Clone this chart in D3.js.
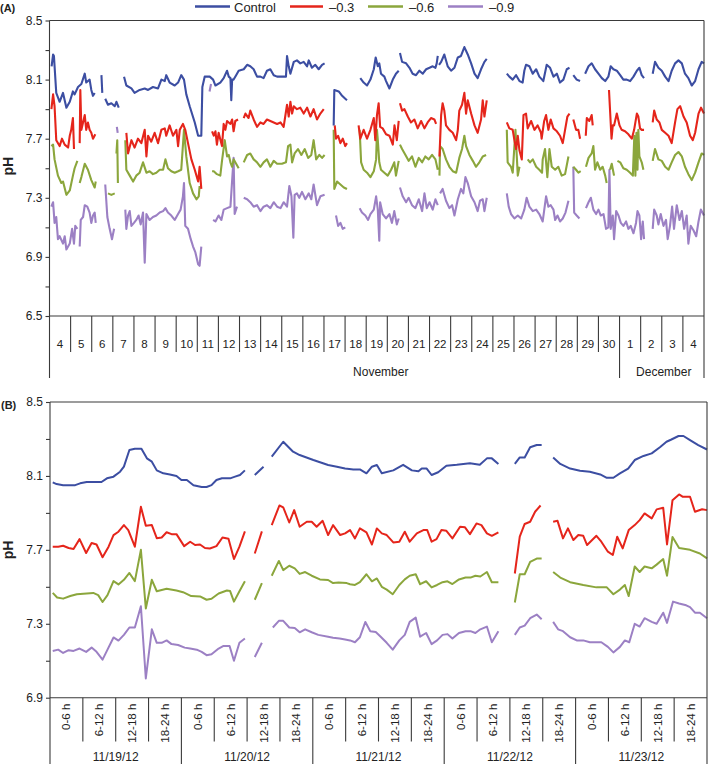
<!DOCTYPE html>
<html><head><meta charset="utf-8">
<script src="https://cdn.jsdelivr.net/npm/d3@7"></script>
<style>
body{margin:0;background:#fff}
svg{display:block}
text{font-family:"Liberation Sans",Arial,Helvetica,sans-serif;fill:#222}
</style>
</head><body>
<svg id="c" width="709" height="764"></svg>
<script>
// ---------- DATA ----------
const seriesNames = ["Control", "\u20130.3", "\u20130.6", "\u20130.9"];
const seriesColors = ["#3c4ea2", "#e5251b", "#8ba63c", "#9c80c4"];

// Panel A: time in days since Nov 4, 00:00 ; pH
const ctrlA = [[0.10,8.19],[0.17,8.27],[0.21,8.26],[0.32,8.01],[0.48,7.95],[0.64,8.01],[0.80,7.91],[0.96,7.95],[1.11,8.02],[1.19,8.00],[1.35,8.05],[1.51,8.07],[1.67,8.14],[1.74,8.08],[1.90,8.10],[1.98,8.03],[2.06,7.99],[2.14,8.01],null,
[2.46,8.13],[2.50,8.01],null,
[2.64,7.97],[2.77,7.93],[2.93,7.94],[3.09,7.92],[3.17,7.95],[3.28,7.91],null,
[3.53,8.12],[3.64,8.06],[3.88,8.04],[4.03,8.01],[4.27,8.03],[4.51,8.04],[4.67,8.03],[4.90,8.05],[5.14,8.04],[5.30,8.10],[5.46,8.09],[5.53,8.13],[5.69,8.08],[5.93,8.06],[6.09,8.08],[6.24,8.13],[6.37,8.10],[6.48,8.00],[6.64,7.92],[6.88,7.81],[7.04,7.72],[7.19,7.72],[7.24,8.05],[7.35,8.12],[7.59,8.12],[7.75,8.10],[7.86,8.06],[8.09,8.08],[8.25,8.11],[8.41,8.16],[8.49,8.12],[8.57,8.11],[8.61,7.96],[8.65,8.10],[8.72,8.10],[8.84,8.13],[8.96,8.16],[9.20,8.17],[9.36,8.20],[9.51,8.19],[9.67,8.17],[9.83,8.12],[9.99,8.12],[10.14,8.11],[10.30,8.16],[10.46,8.17],[10.62,8.13],[10.78,8.12],[11.01,8.12],[11.20,8.12],[11.25,8.26],[11.33,8.19],[11.41,8.14],[11.57,8.22],[11.72,8.23],[11.88,8.21],[12.04,8.22],[12.20,8.19],[12.28,8.23],[12.43,8.18],[12.59,8.20],[12.75,8.17],[12.91,8.20],[13.03,8.21],null,
[13.46,7.79],[13.49,8.03],[13.70,8.02],[13.86,7.99],[14.01,7.97],[14.09,7.96],null,
[14.72,8.11],[14.88,8.08],[15.04,8.06],[15.20,8.10],[15.36,8.17],[15.45,8.25],[15.55,8.19],[15.62,8.21],[15.70,8.14],[15.86,8.12],[15.94,8.09],[16.10,8.04],[16.26,8.10],[16.41,8.14],[16.54,8.16],null,
[16.60,8.28],[16.70,8.22],[16.89,8.21],[17.05,8.18],[17.20,8.14],[17.36,8.13],[17.52,8.16],[17.68,8.14],[17.84,8.17],[18.00,8.18],[18.15,8.19],[18.28,8.18],[18.34,8.21],[18.39,8.26],null,
[18.45,8.20],[18.55,8.22],[18.70,8.27],[18.86,8.19],[19.02,8.16],[19.18,8.18],[19.34,8.25],[19.49,8.26],[19.65,8.32],[19.81,8.27],[19.97,8.21],[20.13,8.14],[20.28,8.11],[20.44,8.17],[20.60,8.22],[20.71,8.24],null,
[21.66,8.14],[21.78,8.12],[21.94,8.10],[22.10,8.13],[22.26,8.09],[22.41,8.08],[22.49,8.16],[22.57,8.20],[22.73,8.19],[22.89,8.14],[23.05,8.17],[23.20,8.12],[23.33,8.10],[23.39,8.09],[23.55,8.20],[23.71,8.18],[23.87,8.12],[24.03,8.14],[24.18,8.08],[24.34,8.10],[24.50,8.17],[24.63,8.18],null,
[24.81,8.13],[24.97,8.10],[25.13,8.09],null,
[25.37,8.14],[25.53,8.19],[25.68,8.21],[25.84,8.17],[26.00,8.14],[26.16,8.11],[26.32,8.09],[26.47,8.12],[26.58,8.19],[26.71,8.17],[26.87,8.16],[27.03,8.13],[27.18,8.10],[27.34,8.10],[27.50,8.09],[27.66,8.12],[27.82,8.16],[27.94,8.18],[28.05,8.13],[28.16,8.11],null,
[28.57,8.14],[28.68,8.22],[28.84,8.18],[29.00,8.16],[29.16,8.12],[29.32,8.09],[29.47,8.16],[29.63,8.21],[29.79,8.23],[29.95,8.21],[30.10,8.14],[30.26,8.11],[30.42,8.06],[30.58,8.09],[30.74,8.17],[30.89,8.22],[31.0,8.21]];

const redA = [[0.09,7.90],[0.17,8.00],[0.24,7.92],[0.32,7.69],[0.48,7.65],[0.59,7.70],[0.72,7.66],[0.88,7.64],[0.96,7.72],[1.03,7.76],[1.11,7.84],[1.16,7.63],null,
[1.43,7.67],[1.46,8.03],[1.51,7.76],[1.67,7.86],[1.74,7.76],[1.82,7.81],[1.90,7.76],[1.98,7.74],[2.06,7.70],[2.17,7.73],null,
[3.64,7.74],[3.72,7.60],[3.88,7.69],[4.03,7.64],[4.19,7.70],[4.35,7.67],[4.51,7.76],[4.59,7.58],[4.67,7.72],[4.82,7.68],[4.98,7.74],[5.14,7.67],[5.30,7.76],[5.46,7.77],[5.53,7.72],[5.69,7.79],[5.85,7.72],[6.01,7.76],[6.09,7.65],[6.17,7.76],[6.32,7.80],[6.43,7.76],[6.56,7.67],[6.72,7.56],[6.88,7.49],[7.04,7.41],[7.11,7.51],[7.19,7.36],null,
[7.70,7.75],[7.78,7.72],[7.86,7.75],[7.93,7.66],[8.01,7.74],[8.17,7.65],[8.25,7.80],[8.33,7.76],[8.41,7.82],[8.57,7.80],[8.65,7.83],[8.72,7.75],[8.80,7.82],[8.93,7.83],null,
[9.20,7.84],[9.28,7.87],[9.43,7.84],[9.51,7.89],[9.67,7.83],[9.83,7.78],[9.99,7.81],[10.14,7.80],[10.30,7.83],[10.46,7.82],[10.62,7.81],[10.78,7.80],[10.94,7.81],[11.09,7.78],[11.25,7.93],[11.33,7.85],[11.41,7.95],[11.49,7.87],[11.57,7.92],[11.72,7.90],[11.88,7.91],[12.04,7.87],[12.20,7.91],[12.36,7.85],[12.51,7.90],[12.67,7.83],[12.83,7.87],[12.99,7.90],null,
[13.51,7.79],[13.57,7.70],[13.67,7.72],[13.78,7.67],[13.89,7.70],[14.01,7.65],[14.09,7.67],null,
[14.64,7.79],[14.72,7.70],[14.88,7.76],[15.04,7.70],[15.20,7.76],[15.36,7.84],[15.43,7.69],[15.51,7.86],[15.59,7.94],[15.66,7.78],[15.78,7.77],[15.94,7.73],[16.10,7.72],[16.26,7.66],[16.34,7.79],[16.45,7.69],[16.54,7.82],null,
[16.60,7.94],[16.70,7.89],[16.81,7.90],[16.97,7.85],[17.12,7.81],[17.28,7.83],[17.44,7.77],[17.60,7.82],[17.76,7.77],[17.91,7.81],[18.07,7.84],[18.23,7.83],[18.31,7.80],null,
[18.47,7.58],[18.55,7.86],[18.62,7.94],[18.70,7.89],[18.78,7.79],[18.94,7.76],[19.10,7.74],[19.26,7.69],[19.34,7.76],[19.41,7.89],[19.54,7.93],[19.65,8.01],[19.73,7.87],[19.81,7.96],[19.97,7.87],[20.13,7.79],[20.28,7.74],[20.44,7.83],[20.52,7.96],[20.60,7.85],[20.71,7.96],null,
[21.66,7.81],[21.78,7.77],[21.94,7.76],[22.02,7.69],[22.10,7.63],[22.18,7.72],[22.26,7.62],[22.37,7.56],[22.45,7.86],[22.57,7.87],[22.65,7.77],[22.81,7.82],[22.97,7.76],[23.12,7.79],[23.28,7.74],[23.31,7.70],[23.43,7.82],[23.52,7.86],[23.63,7.76],[23.74,7.83],[23.87,7.77],[24.03,7.75],[24.18,7.72],[24.31,7.67],[24.42,7.76],[24.53,7.85],[24.63,7.87],null,
[24.81,7.83],[24.94,7.76],[25.05,7.76],[25.13,7.70],null,
[25.40,7.72],[25.45,7.84],[25.57,7.82],[25.68,7.86],[25.73,7.79],null,
[26.50,8.03],[26.62,7.70],[26.68,7.79],[26.74,7.79],[26.87,7.87],[27.00,7.79],[27.10,7.76],[27.26,7.75],[27.42,7.73],[27.58,7.70],[27.69,7.76],[27.82,7.87],[27.89,7.85],[27.97,7.77],[28.05,7.76],[28.16,7.76],null,
[28.57,7.81],[28.64,7.89],[28.76,7.83],[28.89,7.81],[29.00,7.76],[29.16,7.74],[29.32,7.72],[29.47,7.67],[29.63,7.81],[29.74,7.90],[29.87,7.92],[30.03,7.85],[30.18,7.81],[30.34,7.72],[30.47,7.69],[30.58,7.74],[30.74,7.87],[30.86,7.91],[31.0,7.87]];

const greenA = [[0.09,7.65],[0.17,7.66],[0.24,7.56],[0.40,7.45],[0.56,7.40],[0.64,7.41],[0.80,7.32],[0.96,7.35],[1.11,7.45],[1.19,7.50],[1.32,7.55],null,
[1.43,7.40],[1.51,7.44],[1.67,7.53],[1.82,7.49],[1.98,7.42],[2.14,7.37],[2.19,7.41],null,
[2.77,7.33],[2.93,7.32],[3.09,7.33],null,
[3.17,7.60],[3.21,7.69],[3.24,7.40],null,
[3.59,7.69],[3.64,7.49],[3.80,7.45],[3.96,7.41],[4.11,7.45],[4.27,7.47],[4.43,7.54],[4.59,7.47],[4.74,7.48],[4.90,7.46],[5.06,7.47],[5.22,7.49],[5.38,7.49],[5.49,7.56],[5.61,7.50],[5.77,7.48],[5.93,7.47],[6.09,7.48],[6.24,7.49],[6.37,7.76],[6.48,7.58],[6.64,7.40],[6.80,7.33],[6.96,7.29],[7.07,7.31],[7.11,7.38],null,
[7.70,7.48],[7.78,7.48],[7.93,7.46],[8.09,7.45],[8.17,7.55],[8.30,7.69],[8.41,7.58],[8.49,7.59],[8.57,7.54],[8.65,7.51],[8.72,7.56],[8.84,7.53],[8.96,7.50],null,
[9.20,7.54],[9.36,7.59],[9.51,7.60],[9.67,7.56],[9.83,7.54],[9.99,7.51],[10.14,7.54],[10.30,7.56],[10.46,7.51],[10.62,7.55],[10.78,7.53],[11.01,7.53],[11.20,7.54],[11.30,7.65],[11.41,7.66],[11.49,7.54],[11.61,7.60],[11.77,7.63],[11.93,7.59],[12.09,7.63],[12.25,7.57],[12.40,7.59],[12.51,7.69],[12.63,7.56],[12.78,7.59],[12.91,7.57],[13.03,7.59],null,
[13.46,7.76],[13.49,7.36],[13.62,7.41],[13.78,7.39],[13.94,7.37],[14.09,7.36],null,
[14.69,7.76],[14.76,7.54],[14.88,7.49],[15.04,7.47],[15.20,7.44],[15.36,7.48],[15.47,7.56],[15.51,7.76],[15.55,7.69],[15.62,7.54],[15.70,7.49],[15.86,7.47],[16.02,7.45],[16.18,7.49],[16.33,7.54],[16.41,7.45],[16.54,7.55],null,
[16.60,7.66],[16.70,7.63],[16.86,7.59],[17.01,7.55],[17.17,7.58],[17.33,7.51],[17.49,7.57],[17.65,7.54],[17.80,7.58],[17.96,7.56],[18.12,7.59],[18.28,7.56],[18.39,7.49],null,
[18.47,7.45],[18.50,7.65],[18.62,7.63],[18.78,7.56],[18.94,7.51],[19.10,7.48],[19.26,7.47],[19.41,7.57],[19.54,7.63],[19.65,7.72],[19.73,7.65],[19.89,7.59],[20.05,7.55],[20.20,7.51],[20.36,7.54],[20.52,7.58],[20.68,7.59],null,
[21.66,7.76],[21.70,7.54],[21.86,7.51],[21.94,7.47],[22.07,7.76],[22.18,7.45],[22.26,7.51],null,
[22.65,7.56],[22.76,7.54],[22.89,7.56],[23.05,7.51],[23.20,7.49],[23.33,7.47],[23.36,7.56],[23.47,7.63],[23.58,7.44],[23.68,7.63],[23.79,7.51],[23.95,7.49],[24.10,7.51],[24.26,7.45],[24.42,7.46],[24.58,7.58],null,
[24.81,7.51],[24.94,7.49],[25.05,7.47],[25.16,7.48],null,
[25.41,7.51],[25.53,7.57],[25.68,7.60],[25.76,7.65],[25.84,7.49],[25.95,7.54],[26.08,7.49],[26.20,7.51],[26.32,7.45],[26.39,7.40],null,
[26.55,7.49],[26.63,7.53],[26.74,7.45],null,
[26.90,7.55],[27.03,7.54],[27.18,7.50],[27.34,7.49],[27.50,7.47],[27.63,7.45],[27.70,7.72],[27.75,7.45],[27.80,7.74],[27.85,7.49],[27.89,7.76],[27.94,7.58],[28.05,7.54],[28.13,7.49],null,
[28.57,7.55],[28.68,7.63],[28.84,7.56],[29.00,7.55],[29.16,7.51],[29.32,7.49],[29.47,7.54],[29.63,7.59],[29.79,7.61],[29.95,7.58],[30.10,7.51],[30.26,7.46],[30.42,7.42],[30.58,7.47],[30.74,7.54],[30.89,7.60],[31.0,7.59]];

const purpleA = [[0.09,7.24],[0.17,7.27],[0.24,7.13],[0.32,7.17],[0.40,7.02],[0.48,7.04],[0.64,6.99],[0.72,7.04],[0.80,6.95],[0.96,6.99],[1.07,7.09],[1.16,6.99],[1.22,7.11],[1.32,7.09],null,
[1.43,6.97],[1.48,7.15],[1.59,7.17],[1.67,7.25],[1.79,7.24],[1.90,7.20],[1.98,7.13],[2.06,7.18],[2.14,7.20],[2.19,7.13],null,
[2.64,7.39],[2.74,7.17],[2.85,7.09],[2.96,7.02],[3.06,7.09],null,
[3.19,7.78],[3.23,7.74],null,
[3.59,7.22],[3.64,7.09],[3.72,7.18],[3.80,7.21],[3.88,7.11],[4.00,7.13],[4.11,7.15],[4.22,7.18],[4.32,7.12],[4.43,7.20],[4.51,6.86],[4.59,7.19],[4.74,7.15],[4.90,7.17],[5.06,7.18],[5.22,7.20],[5.38,7.21],[5.49,7.23],[5.61,7.20],[5.77,7.18],[5.93,7.15],[6.09,7.19],[6.21,7.22],[6.32,7.31],[6.37,7.40],[6.43,7.11],[6.56,7.09],[6.69,7.02],[6.80,6.97],[6.91,6.93],[7.04,6.85],[7.11,6.84],[7.19,6.97],null,
[7.58,8.02],[7.65,8.07],null,
[7.75,7.15],[7.86,7.14],[8.01,7.18],[8.14,7.15],[8.25,7.22],[8.41,7.23],[8.57,7.24],[8.72,7.57],[8.77,7.19],[8.88,7.24],null,
[9.20,7.30],[9.36,7.29],[9.51,7.27],[9.67,7.24],[9.83,7.25],[9.99,7.21],[10.14,7.24],[10.30,7.25],[10.46,7.23],[10.62,7.27],[10.78,7.24],[10.94,7.23],[11.09,7.27],[11.25,7.24],[11.36,7.38],[11.46,7.31],[11.55,7.03],[11.61,7.32],[11.72,7.33],[11.83,7.30],[11.96,7.34],[12.12,7.29],[12.28,7.33],[12.40,7.29],[12.51,7.39],[12.67,7.25],[12.83,7.31],[13.03,7.32],null,
[13.57,7.18],[13.67,7.11],[13.78,7.13],[13.89,7.09],[14.01,7.10],null,
[14.69,7.23],[14.80,7.20],[14.96,7.18],[15.09,7.15],[15.20,7.19],[15.36,7.22],[15.47,7.31],[15.55,7.22],[15.62,7.01],[15.66,7.27],[15.78,7.19],[15.94,7.16],[16.10,7.19],[16.22,7.13],[16.33,7.21],[16.45,7.12],[16.54,7.16],null,
[16.60,7.37],[16.73,7.31],[16.89,7.27],[17.01,7.30],[17.17,7.25],[17.33,7.23],[17.49,7.29],[17.65,7.21],[17.76,7.33],[17.87,7.23],[18.00,7.27],[18.15,7.22],[18.28,7.29],[18.39,7.25],null,
[18.50,7.33],[18.62,7.36],[18.78,7.28],[18.94,7.23],[19.07,7.25],[19.18,7.18],[19.34,7.29],[19.49,7.36],[19.60,7.33],[19.70,7.44],[19.81,7.40],[19.97,7.31],[20.13,7.27],[20.28,7.21],[20.39,7.28],[20.52,7.29],[20.60,7.21],[20.71,7.30],null,
[21.66,7.33],[21.75,7.24],[21.86,7.19],[22.02,7.16],[22.18,7.18],[22.34,7.16],[22.49,7.22],[22.60,7.30],[22.73,7.24],[22.89,7.21],[23.05,7.22],[23.20,7.19],[23.36,7.14],[23.52,7.31],[23.63,7.24],[23.74,7.25],[23.87,7.22],[23.95,7.15],[24.06,7.18],[24.18,7.14],[24.31,7.16],[24.44,7.20],[24.58,7.28],null,
[24.81,7.51],[24.85,7.20],[24.97,7.18],[25.10,7.16],null,
[25.41,7.23],[25.53,7.27],[25.64,7.30],[25.76,7.22],[25.89,7.19],[26.00,7.22],[26.11,7.18],[26.24,7.19],[26.36,7.09],[26.47,7.10],[26.52,7.49],[26.58,7.09],[26.68,7.18],[26.74,7.02],[26.84,7.21],[26.95,7.18],[27.06,7.13],[27.18,7.11],[27.31,7.14],[27.42,7.09],[27.53,7.11],[27.66,7.06],[27.78,7.13],[27.85,7.21],[27.94,7.18],[28.02,7.02],[28.10,7.14],[28.16,7.02],null,
[28.57,7.09],[28.64,7.22],[28.76,7.18],[28.84,7.12],[28.95,7.19],[29.08,7.11],[29.20,7.15],[29.28,7.02],[29.39,7.11],[29.49,7.24],[29.58,7.09],[29.71,7.25],[29.84,7.15],[29.95,7.21],[30.06,7.09],[30.18,7.18],[30.26,6.99],[30.37,7.11],[30.50,7.08],[30.63,7.04],[30.74,7.14],[30.85,7.22],[31.0,7.18]];

// Panel B: hours since 11/19/12 00:00 ; pH
const ctrlB = [[0.5,8.065],[1.2,8.056],[2.4,8.05],[4.6,8.05],[5.5,8.06],[6.7,8.067],[9.4,8.067],[10.4,8.087],[11.6,8.096],[12.8,8.123],[13.5,8.15],[14.5,8.24],[15.5,8.247],[16.7,8.247],[17.7,8.195],[18.6,8.177],[19.5,8.13],[20.7,8.114],[21.9,8.108],[23.1,8.1],[24.0,8.078],[25.0,8.078],[26.2,8.05],[27.7,8.04],[28.6,8.04],[29.5,8.05],[30.4,8.078],[31.4,8.087],[32.9,8.087],[33.8,8.096],[34.7,8.105],[35.6,8.13],null,
[37.4,8.105],[39.0,8.15],null,
[40.5,8.204],[42.6,8.285],[44.4,8.231],[45.6,8.213],[48.1,8.186],[50.8,8.159],[52.4,8.15],[53.9,8.14],[55.4,8.135],[56.6,8.135],[57.8,8.114],[58.8,8.15],[59.7,8.159],[60.6,8.114],[62.7,8.13],[64.5,8.16],[66.1,8.13],[67.3,8.125],[67.9,8.14],[68.8,8.14],[69.7,8.105],[70.9,8.12],[72.4,8.155],[74.3,8.16],[76.7,8.168],[78.5,8.16],[79.8,8.195],[80.7,8.195],[81.9,8.165],null,
[84.9,8.165],[85.8,8.2],[86.7,8.2],[87.7,8.255],[88.9,8.267],[89.8,8.267],null,
[91.9,8.2],[93.2,8.165],[95.0,8.14],[96.8,8.128],[98.6,8.123],[100.5,8.108],[101.7,8.09],[102.9,8.09],[104.1,8.114],[105.6,8.14],[106.8,8.186],[108.4,8.208],[109.9,8.222],[111.4,8.255],[112.6,8.285],[113.5,8.297],[114.8,8.316],[115.7,8.316],[116.9,8.294],[118.4,8.267],[120,8.243]];

const redB = [[0.5,7.717],[1.5,7.717],[2.4,7.722],[3.4,7.71],[4.3,7.705],[5.4,7.758],[6.6,7.683],[7.6,7.737],[8.5,7.729],[9.6,7.66],[10.7,7.717],[11.6,7.78],[12.5,7.798],[13.5,7.834],[14.3,7.807],[15.5,7.717],[16.6,7.933],[17.5,7.83],[18.6,7.834],[19.5,7.763],[20.4,7.767],[21.3,7.795],[22.2,7.785],[23.1,7.785],[24.5,7.72],[25.6,7.744],[26.5,7.726],[27.4,7.729],[28.3,7.71],[29.2,7.707],[30.4,7.72],[31.5,7.767],[32.6,7.76],[33.6,7.65],[34.6,7.717],[35.6,7.80],null,
[37.4,7.68],[38.7,7.80],null,
[40.5,7.834],[41.9,7.94],[42.6,7.93],[43.7,7.848],[44.6,7.915],[45.6,7.825],[46.9,7.852],[47.8,7.852],[48.7,7.825],[49.8,7.857],[50.8,7.78],[51.7,7.834],[53.0,7.78],[53.9,7.789],[54.8,7.807],[55.7,7.762],[56.6,7.816],[57.8,7.795],[58.8,7.729],[59.7,7.816],[60.6,7.789],[61.5,7.78],[62.7,7.74],[63.8,7.744],[64.8,7.798],[65.7,7.744],[67.0,7.789],[68.2,7.807],[68.9,7.807],[69.7,7.744],[70.6,7.758],[71.5,7.807],[72.4,7.803],[73.5,7.762],[74.9,7.825],[75.8,7.822],[76.7,7.785],[77.9,7.843],[78.8,7.834],[79.8,7.789],[80.7,7.776],[81.9,7.795],null,
[84.9,7.572],[85.8,7.771],[86.7,7.84],[87.7,7.852],[88.6,7.906],[89.6,7.94],null,
[91.9,7.852],[92.7,7.857],[93.7,7.762],[94.6,7.816],[95.6,7.753],[96.5,7.78],[97.4,7.776],[98.1,7.726],[99.8,7.776],[100.7,7.744],[101.9,7.69],[102.8,7.672],[103.6,7.771],[104.6,7.708],[105.7,7.807],[106.8,7.834],[107.7,7.861],[108.6,7.897],[109.9,7.87],[110.8,7.919],[112.0,7.928],[112.7,7.729],[113.7,7.969],[114.9,8.0],[115.6,7.987],[116.9,7.987],[117.8,7.906],[119.1,7.92],[120,7.915]];

const greenB = [[0.5,7.467],[1.3,7.442],[2.4,7.436],[3.7,7.45],[4.9,7.46],[6.7,7.464],[7.9,7.467],[8.8,7.455],[9.6,7.418],[10.5,7.455],[11.6,7.531],[12.5,7.513],[13.5,7.538],[14.5,7.575],[15.5,7.531],[16.6,7.70],[17.5,7.383],[18.6,7.538],[19.5,7.476],[21.3,7.49],[23.1,7.48],[24.3,7.471],[25.8,7.45],[27.4,7.448],[28.6,7.43],[29.5,7.435],[30.8,7.464],[32.3,7.48],[32.9,7.477],[33.6,7.42],[34.6,7.476],[35.6,7.53],null,
[37.4,7.43],[38.7,7.52],null,
[40.5,7.56],[41.8,7.64],[42.6,7.59],[43.7,7.614],[44.7,7.6],[45.6,7.57],[46.6,7.58],[47.8,7.56],[49.3,7.54],[50.8,7.537],[51.7,7.52],[52.7,7.523],[54.2,7.52],[54.8,7.514],[55.7,7.51],[56.6,7.525],[57.8,7.568],[58.8,7.53],[59.7,7.545],[60.6,7.5],[61.5,7.485],[62.6,7.46],[63.8,7.51],[64.8,7.54],[65.7,7.56],[66.8,7.568],[67.6,7.514],[68.7,7.53],[69.7,7.497],[70.7,7.51],[71.7,7.525],[72.6,7.53],[73.5,7.515],[74.7,7.54],[75.9,7.55],[76.8,7.55],[77.7,7.56],[78.6,7.556],[79.8,7.58],[80.7,7.525],[81.9,7.525],null,
[84.9,7.415],[85.8,7.568],[86.7,7.568],[87.7,7.635],[88.9,7.653],[89.8,7.653],null,
[91.9,7.58],[93.2,7.55],[95.0,7.525],[97.4,7.51],[99.8,7.497],[101.7,7.497],[102.9,7.46],[104.1,7.485],[105.0,7.51],[105.7,7.45],[106.8,7.61],[107.7,7.58],[108.6,7.61],[109.9,7.60],[110.8,7.62],[112.0,7.65],[112.7,7.56],[113.7,7.77],[114.9,7.71],[116.9,7.70],[118.7,7.68],[120,7.654]];

const purpleB = [[0.5,7.153],[1.5,7.16],[2.4,7.142],[3.4,7.157],[4.3,7.153],[5.4,7.166],[6.6,7.148],[7.6,7.171],[8.5,7.148],[9.6,7.106],[10.5,7.16],[11.6,7.226],[12.5,7.209],[13.5,7.24],[14.5,7.28],[15.5,7.28],[16.6,7.395],[17.5,7.004],[18.6,7.27],[19.5,7.197],[20.4,7.197],[21.3,7.21],[22.2,7.19],[23.4,7.185],[24.6,7.171],[25.6,7.166],[26.8,7.16],[27.7,7.148],[28.6,7.13],[29.5,7.135],[30.8,7.166],[31.7,7.18],[32.8,7.18],[33.6,7.1],[34.6,7.197],[35.6,7.22],null,
[37.4,7.12],[38.7,7.197],null,
[40.7,7.28],[41.8,7.316],[42.6,7.316],[43.7,7.28],[44.7,7.277],[45.6,7.254],[46.6,7.27],[47.8,7.254],[49.0,7.24],[50.8,7.23],[51.7,7.224],[52.9,7.22],[53.9,7.215],[54.8,7.21],[55.7,7.2],[56.6,7.227],[57.6,7.31],[58.5,7.26],[59.5,7.255],[60.4,7.23],[61.5,7.197],[62.6,7.16],[63.8,7.21],[64.8,7.24],[65.7,7.31],[66.8,7.333],[67.6,7.23],[68.7,7.25],[69.7,7.19],[70.7,7.21],[71.7,7.24],[72.6,7.244],[73.5,7.22],[74.7,7.25],[75.9,7.26],[76.8,7.26],[77.7,7.25],[78.6,7.27],[79.8,7.285],[80.7,7.2],[81.9,7.26],null,
[84.9,7.24],[85.8,7.28],[86.7,7.29],[87.7,7.33],[88.9,7.35],[89.8,7.325],null,
[91.9,7.31],[92.8,7.27],[93.7,7.26],[95.0,7.227],[96.2,7.21],[97.4,7.21],[98.6,7.2],[100.7,7.2],[101.9,7.175],[102.9,7.145],[104.1,7.175],[105.0,7.21],[105.8,7.2],[106.8,7.3],[107.7,7.285],[108.6,7.33],[109.9,7.31],[110.8,7.3],[112.0,7.36],[112.7,7.305],[113.8,7.42],[114.9,7.41],[116.2,7.40],[116.9,7.39],[117.8,7.36],[118.7,7.36],[120,7.33]];

// Axis labels
const yTicksA = [8.5, 8.1, 7.7, 7.3, 6.9, 6.5];
const yMinorA = [8.3, 7.9, 7.5, 7.1, 6.7];
const yTicksB = [8.5, 8.1, 7.7, 7.3, 6.9];
const yMinorB = [8.3, 7.9, 7.5, 7.1];
const dayLabelsA = ["4","5","6","7","8","9","10","11","12","13","14","15","16","17","18","19","20","21","22","23","24","25","26","27","28","29","30","1","2","3","4"];
const monthLabelsA = ["November", "December"];
const monthDaysA = [27, 4];
const periodLabelsB = ["0-6 h", "6-12 h", "12-18 h", "18-24 h"];
const dateLabelsB = ["11/19/12", "11/20/12", "11/21/12", "11/22/12", "11/23/12"];

// ---------- DRAW ----------
const svg = d3.select("#c");
const axisColor = "#3a3a3a";

const xA = d3.scaleLinear().domain([0, dayLabelsA.length]).range([49.5, 704]);
const yA = d3.scaleLinear().domain([6.5, 8.5]).range([316, 20.5]);
const hoursB = dateLabelsB.length * 24;
const xB = d3.scaleLinear().domain([0, hoursB]).range([50, 707]);
const yB = d3.scaleLinear().domain([6.9, 8.5]).range([697.7, 402]);

function drawYAxis(scale, x, major, minor) {
  const g = svg.append("g").attr("transform", `translate(${x},0)`);
  g.call(d3.axisLeft(scale).tickValues(major).tickSize(4).tickPadding(3).tickFormat(d3.format(".1f")));
  const gm = svg.append("g").attr("transform", `translate(${x},0)`);
  gm.call(d3.axisLeft(scale).tickValues(minor).tickSize(4).tickFormat(""));
  [g, gm].forEach(a => {
    a.select(".domain").remove();
    a.selectAll("line").attr("stroke", axisColor).attr("stroke-width", 1.1);
  });
  g.selectAll("text").attr("font-size", 12).attr("fill", "#222")
    .style("font-family", '"Liberation Sans",Arial,sans-serif');
}

function vline(x, y1, y2) {
  svg.append("line").attr("x1", x).attr("x2", x).attr("y1", y1).attr("y2", y2)
    .attr("stroke", axisColor).attr("stroke-width", 1.1);
}
function hline(y, x1, x2) {
  svg.append("line").attr("x1", x1).attr("x2", x2).attr("y1", y).attr("y2", y)
    .attr("stroke", axisColor).attr("stroke-width", 1.1);
}

function drawSeries(data, xs, ys, color, w) {
  const line = d3.line().defined(d => d !== null).x(d => xs(d[0])).y(d => ys(d[1]));
  svg.append("path").attr("d", line(data)).attr("fill", "none")
    .attr("stroke", color).attr("stroke-width", w)
    .attr("stroke-linejoin", "round").attr("stroke-linecap", "butt");
}

// ----- Panel A -----
const A_bottom = yA(6.5), A_top = yA(8.5);
const A_dayLine = 352, A_end = 378;
const seriesA = [ctrlA, redA, greenA, purpleA];
[3,2,1,0].forEach(i => drawSeries(seriesA[i], xA, yA, seriesColors[i], 2.1));
hline(A_top, xA(0), xA(31));
hline(A_bottom, xA(0), xA(31));
vline(xA(0), A_top, A_end);
vline(xA(31), A_top, A_end);
drawYAxis(yA, xA(0), yTicksA, yMinorA);
let monthStart = 0;
const monthBounds = [];
monthDaysA.forEach(n => { monthBounds.push([monthStart, monthStart + n]); monthStart += n; });
const monthEdges = monthBounds.map(b => b[1]);
for (let i = 1; i < dayLabelsA.length; i++) {
  vline(xA(i), A_bottom, monthEdges.includes(i) ? A_end : A_dayLine);
}
svg.append("g").selectAll("text").data(dayLabelsA).join("text")
  .attr("x", (d, i) => xA(i + 0.5)).attr("y", 348)
  .attr("text-anchor", "middle").attr("font-size", 11.5).text(d => d);
svg.append("text").attr("x", (xA(0) + xA(31)) / 2 + 4).attr("y", 376)
  .attr("text-anchor", "middle").attr("font-size", 12).text(monthLabelsA[0]);
svg.append("text").attr("x", (xA(monthBounds[1][0]) + xA(monthBounds[1][1])) / 2 + 2).attr("y", 376)
  .attr("text-anchor", "middle").attr("font-size", 12).text(monthLabelsA[1]);

// ----- Panel B -----
const B_bottom = yB(6.9), B_top = yB(8.5);
const B_periodLine = 741.5, B_end = 764;
const seriesB = [ctrlB, redB, greenB, purpleB];
[3,2,1,0].forEach(i => drawSeries(seriesB[i], xB, yB, seriesColors[i], 2.0));
hline(B_top, xB(0), xB(hoursB));
hline(B_bottom, xB(0), xB(hoursB));
vline(xB(0), B_top, B_end);
vline(xB(hoursB), B_top, B_end);
drawYAxis(yB, xB(0), yTicksB, yMinorB);
const nPeriods = dateLabelsB.length * periodLabelsB.length;
for (let k = 1; k < nPeriods; k++) {
  vline(xB(k * 6), B_bottom, k % 4 === 0 ? B_end : B_periodLine);
}
const periodData = d3.range(nPeriods).map(k => ({k, label: periodLabelsB[k % 4]}));
svg.append("g").selectAll("text").data(periodData).join("text")
  .attr("transform", d => `translate(${xB(d.k * 6 + 3) + 4},${B_bottom + 6}) rotate(-90)`)
  .attr("text-anchor", "end").attr("font-size", 11.5).text(d => d.label);
svg.append("g").selectAll("text").data(dateLabelsB).join("text")
  .attr("x", (d, i) => xB(i * 24 + 12)).attr("y", 761)
  .attr("text-anchor", "middle").attr("font-size", 12).text(d => d);

// ----- panel labels, y titles -----
svg.append("text").attr("x", 0).attr("y", 11.5).attr("font-size", 11).attr("font-weight", "bold").text("(A)");
svg.append("text").attr("x", 1).attr("y", 409).attr("font-size", 11).attr("font-weight", "bold").text("(B)");
svg.append("text").attr("transform", `translate(13,${(A_top + A_bottom) / 2 - 2}) rotate(-90)`)
  .attr("text-anchor", "middle").attr("font-size", 14).attr("font-weight", "bold").text("pH");
svg.append("text").attr("transform", `translate(13,${(B_top + B_bottom) / 2}) rotate(-90)`)
  .attr("text-anchor", "middle").attr("font-size", 14).attr("font-weight", "bold").text("pH");

// ----- legend -----
const legendX = [195, 290, 368, 448];
const legendLen = [35, 33, 35, 35];
const legend = svg.append("g");
seriesNames.forEach((n, i) => {
  const x2 = legendX[i] + legendLen[i];
  legend.append("line").attr("x1", legendX[i]).attr("x2", x2)
    .attr("y1", 6.5).attr("y2", 6.5).attr("stroke", seriesColors[i]).attr("stroke-width", 2.4);
  legend.append("text").attr("x", x2 + (i === 0 ? 4 : 6)).attr("y", 11.5)
    .attr("font-size", 13).text(n);
});
</script>
</body></html>
